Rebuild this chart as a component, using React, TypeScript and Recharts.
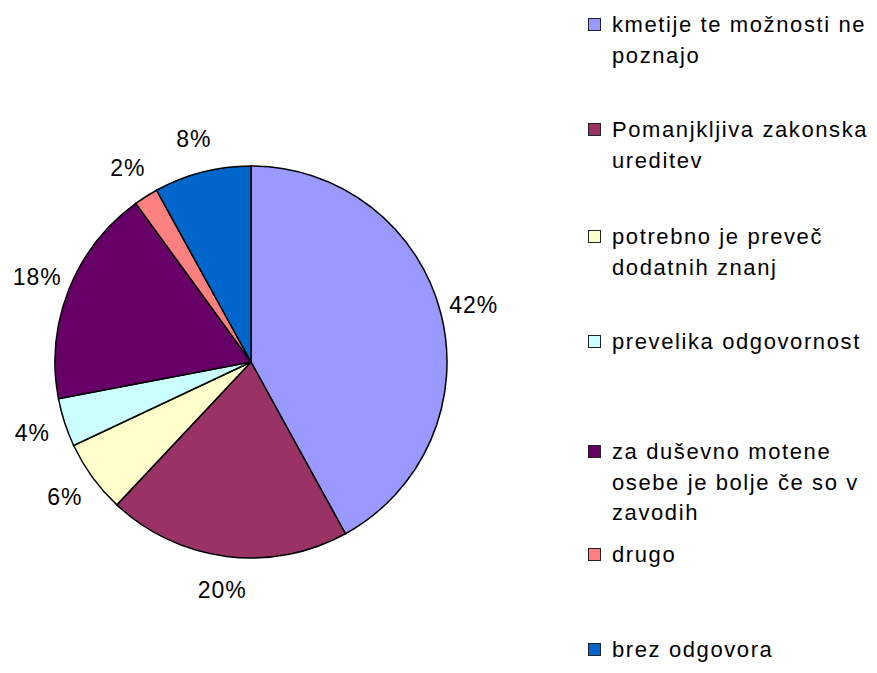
import React from "react";
import { PieChart, Pie, Cell } from "recharts";

// categories, values (%) and slice colours
const categories = [
  "kmetije te možnosti ne\npoznajo",
  "Pomanjkljiva zakonska\nureditev",
  "potrebno je preveč\ndodatnih znanj",
  "prevelika odgovornost",
  "za duševno motene\nosebe je bolje če so v\nzavodih",
  "drugo",
  "brez odgovora",
];
const shares = [42, 20, 6, 4, 18, 2, 8];
const colors = ["#9999FF", "#993366", "#FFFFCC", "#CCFFFF", "#660066", "#FF8080", "#0066CC"];

// legend layout (top of each entry, px)
const legendTops = [10, 115, 222, 327, 437, 540, 635];

const data = categories.map((name, i) => ({ name, value: shares[i] }));

const FONT = '"Liberation Sans", Arial, sans-serif';
const RAD = Math.PI / 180;

const renderLabel = (props: any) => {
  const { cx, cy, midAngle, outerRadius, value } = props;
  const r = outerRadius + 34;
  const x = cx + r * Math.cos(-midAngle * RAD);
  const y = cy + r * Math.sin(-midAngle * RAD);
  return (
    <text
      x={x}
      y={y}
      textAnchor="middle"
      dominantBaseline="central"
      fill="#000"
      fontSize={23}
      letterSpacing={1}
      fontFamily={FONT}
    >
      {`${value}%`}
    </text>
  );
};

export default function App() {
  return (
    <div
      style={{
        position: "absolute",
        left: 0,
        top: 0,
        width: 877,
        height: 673,
        background: "#fff",
        fontFamily: FONT,
        overflow: "hidden",
      }}
    >
      <PieChart width={877} height={673} margin={{ top: 0, right: 0, bottom: 0, left: 0 }}>
        <Pie
          data={data}
          dataKey="value"
          nameKey="name"
          cx={251}
          cy={362}
          outerRadius={196}
          startAngle={90}
          endAngle={-270}
          stroke="#000"
          strokeWidth={1.5}
          label={renderLabel}
          labelLine={false}
          isAnimationActive={false}
        >
          {data.map((d, i) => (
            <Cell key={d.name} fill={colors[i]} />
          ))}
        </Pie>
      </PieChart>

      {/* legend */}
      {categories.map((name, i) => (
        <div
          key={name}
          style={{
            position: "absolute",
            left: 588,
            top: legendTops[i],
            fontSize: 22,
            letterSpacing: "1.6px",
            lineHeight: "30.5px",
            color: "#000",
            whiteSpace: "pre",
          }}
        >
          <span
            style={{
              position: "absolute",
              left: 0,
              top: 8,
              width: 11,
              height: 11,
              background: colors[i],
              border: "1.5px solid #222",
            }}
          />
          <div style={{ marginLeft: 24 }}>{name}</div>
        </div>
      ))}
    </div>
  );
}
